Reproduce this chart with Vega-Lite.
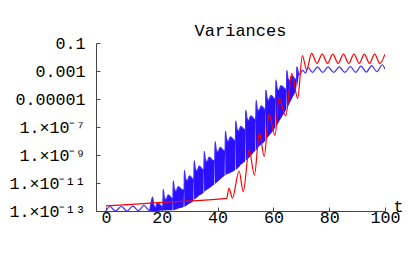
{
  "$schema": "https://vega.github.io/schema/vega-lite/v6.json",
  "width": 289,
  "height": 168,
  "autosize": "none",
  "padding": {"left": 96, "top": 43, "right": 24, "bottom": 42},
  "background": "white",
  "config": {
    "view": {"stroke": null},
    "font": "Liberation Mono",
    "axis": {"labelColor": "#000", "domainColor": "#444", "tickColor": "#444", "grid": false, "titleFontWeight": "normal", "titleColor": "#000"}
  },
  "title": {"text": "Variances", "font": "Liberation Mono", "fontSize": 17, "fontWeight": "normal", "offset": -5, "anchor": "middle", "color": "#000"},
  "datasets": {
    "blue": [
      {"t": 0, "lo": 1.0e-13, "hi": 1.0e-13},
      {"t": 1.4, "lo": 2.1e-13, "hi": 2.1e-13},
      {"t": 3.4, "lo": 1.0e-13, "hi": 1.0e-13},
      {"t": 5.5, "lo": 2.1e-13, "hi": 2.1e-13},
      {"t": 7.5, "lo": 1.0e-13, "hi": 1.0e-13},
      {"t": 9.6, "lo": 2.2e-13, "hi": 2.2e-13},
      {"t": 11.6, "lo": 1.05e-13, "hi": 1.05e-13},
      {"t": 13.6, "lo": 2.5e-13, "hi": 2.5e-13},
      {"t": 15.5, "lo": 1.1e-13, "hi": 1.1e-13},
      {"t": 16.7, "lo": 1.0e-13, "hi": 1.0e-12},
      {"t": 17.1, "lo": 1.0e-13, "hi": 2.8e-13},
      {"t": 17.7, "lo": 1.0e-13, "hi": 1.8e-13},
      {"t": 18.5, "lo": 1.0e-13, "hi": 4.0e-13},
      {"t": 20.0, "lo": 1.07e-13, "hi": 2.2e-13},
      {"t": 20.3, "lo": 1.07e-13, "hi": 2.2e-13},
      {"t": 20.4, "lo": 2.2e-13, "hi": 2.2e-13},
      {"t": 20.5, "lo": 1.07e-13, "hi": 3.5e-12},
      {"t": 20.9, "lo": 1.07e-13, "hi": 1.0e-12},
      {"t": 21.5, "lo": 1.1e-13, "hi": 6.3e-13},
      {"t": 22.3, "lo": 1.12e-13, "hi": 1.4e-12},
      {"t": 23.8, "lo": 1.15e-13, "hi": 7.9e-13},
      {"t": 23.9, "lo": 1.15e-13, "hi": 7.9e-13},
      {"t": 24.0, "lo": 7.9e-13, "hi": 7.9e-13},
      {"t": 24.1, "lo": 1.15e-13, "hi": 1.4e-11},
      {"t": 24.5, "lo": 1.2e-13, "hi": 4.0e-12},
      {"t": 25.1, "lo": 1.3e-13, "hi": 2.5e-12},
      {"t": 25.9, "lo": 1.5e-13, "hi": 5.6e-12},
      {"t": 27.4, "lo": 1.8e-13, "hi": 3.2e-12},
      {"t": 27.9, "lo": 2.0e-13, "hi": 3.2e-12},
      {"t": 28.0, "lo": 3.2e-12, "hi": 3.2e-12},
      {"t": 28.1, "lo": 2.0e-13, "hi": 7.9e-11},
      {"t": 28.5, "lo": 2.2e-13, "hi": 2.2e-11},
      {"t": 29.1, "lo": 2.7e-13, "hi": 1.4e-11},
      {"t": 29.9, "lo": 3.4e-13, "hi": 3.2e-11},
      {"t": 31.4, "lo": 5.6e-13, "hi": 1.8e-11},
      {"t": 31.5, "lo": 1.8e-11, "hi": 1.8e-11},
      {"t": 31.6, "lo": 6.3e-13, "hi": 4.0e-10},
      {"t": 32.0, "lo": 7.4e-13, "hi": 1.1e-10},
      {"t": 32.6, "lo": 9.3e-13, "hi": 7.1e-11},
      {"t": 33.4, "lo": 1.26e-12, "hi": 1.6e-10},
      {"t": 34.9, "lo": 2.0e-12, "hi": 8.9e-11},
      {"t": 35.0, "lo": 2.2e-12, "hi": 8.9e-11},
      {"t": 35.1, "lo": 8.9e-11, "hi": 8.9e-11},
      {"t": 35.2, "lo": 2.4e-12, "hi": 1.8e-9},
      {"t": 35.6, "lo": 2.7e-12, "hi": 5.0e-10},
      {"t": 36.2, "lo": 3.3e-12, "hi": 3.2e-10},
      {"t": 37.0, "lo": 4.3e-12, "hi": 7.1e-10},
      {"t": 38.5, "lo": 7.1e-12, "hi": 4.0e-10},
      {"t": 38.9, "lo": 8.5e-12, "hi": 4.0e-10},
      {"t": 39.0, "lo": 4.0e-10, "hi": 4.0e-10},
      {"t": 39.1, "lo": 8.9e-12, "hi": 8.9e-9},
      {"t": 39.5, "lo": 1.0e-11, "hi": 2.5e-9},
      {"t": 40.1, "lo": 1.26e-11, "hi": 1.6e-9},
      {"t": 40.9, "lo": 1.8e-11, "hi": 3.5e-9},
      {"t": 42.4, "lo": 3.2e-11, "hi": 2.0e-9},
      {"t": 42.6, "lo": 3.4e-11, "hi": 2.0e-9},
      {"t": 42.7, "lo": 2.0e-9, "hi": 2.0e-9},
      {"t": 42.8, "lo": 3.5e-11, "hi": 5.0e-8},
      {"t": 43.2, "lo": 4.0e-11, "hi": 1.4e-8},
      {"t": 43.8, "lo": 4.5e-11, "hi": 8.9e-9},
      {"t": 44.6, "lo": 5.4e-11, "hi": 2.0e-8},
      {"t": 46.1, "lo": 7.9e-11, "hi": 1.1e-8},
      {"t": 46.3, "lo": 8.5e-11, "hi": 1.1e-8},
      {"t": 46.4, "lo": 1.1e-8, "hi": 1.1e-8},
      {"t": 46.5, "lo": 8.9e-11, "hi": 2.8e-7},
      {"t": 46.9, "lo": 1.0e-10, "hi": 7.9e-8},
      {"t": 47.5, "lo": 1.26e-10, "hi": 5.0e-8},
      {"t": 48.3, "lo": 2.0e-10, "hi": 1.1e-7},
      {"t": 49.8, "lo": 3.5e-10, "hi": 6.3e-8},
      {"t": 49.9, "lo": 3.7e-10, "hi": 6.3e-8},
      {"t": 50.0, "lo": 6.3e-8, "hi": 6.3e-8},
      {"t": 50.1, "lo": 4.0e-10, "hi": 1.6e-6},
      {"t": 50.5, "lo": 4.7e-10, "hi": 4.5e-7},
      {"t": 51.1, "lo": 6.0e-10, "hi": 2.8e-7},
      {"t": 51.9, "lo": 8.5e-10, "hi": 6.3e-7},
      {"t": 53.4, "lo": 1.9e-9, "hi": 3.5e-7},
      {"t": 53.6, "lo": 2.0e-9, "hi": 3.5e-7},
      {"t": 53.7, "lo": 3.5e-7, "hi": 3.5e-7},
      {"t": 53.8, "lo": 2.2e-9, "hi": 7.9e-6},
      {"t": 54.2, "lo": 2.8e-9, "hi": 2.2e-6},
      {"t": 54.8, "lo": 4.0e-9, "hi": 1.4e-6},
      {"t": 55.6, "lo": 5.6e-9, "hi": 3.2e-6},
      {"t": 57.1, "lo": 1.1e-8, "hi": 1.8e-6},
      {"t": 57.2, "lo": 1.8e-6, "hi": 1.8e-6},
      {"t": 57.3, "lo": 1.26e-8, "hi": 4.5e-5},
      {"t": 57.7, "lo": 1.6e-8, "hi": 1.26e-5},
      {"t": 58.3, "lo": 2.2e-8, "hi": 7.9e-6},
      {"t": 59.1, "lo": 3.5e-8, "hi": 1.8e-5},
      {"t": 60.6, "lo": 8.9e-8, "hi": 1.0e-5},
      {"t": 60.7, "lo": 9.5e-8, "hi": 1.0e-5},
      {"t": 60.8, "lo": 1.0e-5, "hi": 1.0e-5},
      {"t": 60.9, "lo": 1.1e-7, "hi": 2.2e-4},
      {"t": 61.3, "lo": 1.4e-7, "hi": 6.3e-5},
      {"t": 61.9, "lo": 2.2e-7, "hi": 4.0e-5},
      {"t": 62.7, "lo": 4.0e-7, "hi": 8.9e-5},
      {"t": 64.5, "lo": 1.6e-6, "hi": 5.0e-5},
      {"t": 64.6, "lo": 1.7e-6, "hi": 5.0e-5},
      {"t": 64.7, "lo": 5.0e-5, "hi": 5.0e-5},
      {"t": 64.8, "lo": 2.0e-6, "hi": 1.1e-3},
      {"t": 65.2, "lo": 2.8e-6, "hi": 3.2e-4},
      {"t": 65.8, "lo": 5.0e-6, "hi": 2.0e-4},
      {"t": 66.6, "lo": 1.0e-5, "hi": 4.5e-4},
      {"t": 68.1, "lo": 5.0e-5, "hi": 2.5e-4},
      {"t": 68.2, "lo": 6.0e-5, "hi": 2.5e-4},
      {"t": 68.3, "lo": 2.5e-4, "hi": 2.5e-4},
      {"t": 68.4, "lo": 7.9e-5, "hi": 2.0e-3},
      {"t": 69.2, "lo": 5.6e-4, "hi": 5.6e-4},
      {"t": 70.6, "lo": 1.1e-3, "hi": 1.1e-3},
      {"t": 71.5, "lo": 7.1e-4, "hi": 7.1e-4},
      {"t": 72.4, "lo": 1.8e-3, "hi": 1.8e-3},
      {"t": 74.0, "lo": 7.9e-4, "hi": 7.9e-4},
      {"t": 75.8, "lo": 2.0e-3, "hi": 2.0e-3},
      {"t": 77.7, "lo": 7.9e-4, "hi": 7.9e-4},
      {"t": 79.6, "lo": 2.0e-3, "hi": 2.0e-3},
      {"t": 81.6, "lo": 7.9e-4, "hi": 7.9e-4},
      {"t": 83.6, "lo": 2.0e-3, "hi": 2.0e-3},
      {"t": 85.6, "lo": 7.9e-4, "hi": 7.9e-4},
      {"t": 87.6, "lo": 2.1e-3, "hi": 2.1e-3},
      {"t": 89.5, "lo": 7.9e-4, "hi": 7.9e-4},
      {"t": 91.4, "lo": 2.2e-3, "hi": 2.2e-3},
      {"t": 93.3, "lo": 8.3e-4, "hi": 8.3e-4},
      {"t": 95.2, "lo": 2.4e-3, "hi": 2.4e-3},
      {"t": 97.1, "lo": 8.9e-4, "hi": 8.9e-4},
      {"t": 99.0, "lo": 2.8e-3, "hi": 2.8e-3},
      {"t": 100, "lo": 1.4e-3, "hi": 1.4e-3}
    ],
    "red": [
      {"t": 0, "v": 2.3e-13},
      {"t": 20, "v": 4.1e-13},
      {"t": 43.2, "v": 7.9e-13},
      {"t": 44.1, "v": 4.2e-12},
      {"t": 45.3, "v": 8.3e-13},
      {"t": 47.7, "v": 7.2e-11},
      {"t": 49.2, "v": 2.4e-12},
      {"t": 51.3, "v": 2.3e-9},
      {"t": 53.2, "v": 3.7e-11},
      {"t": 55.0, "v": 4.0e-8},
      {"t": 56.7, "v": 7.9e-10},
      {"t": 58.4, "v": 7.9e-7},
      {"t": 60.6, "v": 2.5e-8},
      {"t": 62.0, "v": 1.1e-5},
      {"t": 64.4, "v": 6.3e-7},
      {"t": 66.6, "v": 6.8e-4},
      {"t": 68.7, "v": 1.1e-5},
      {"t": 70.4, "v": 1.26e-2},
      {"t": 71.9, "v": 1.2e-3},
      {"t": 73.7, "v": 1.8e-2},
      {"t": 75.6, "v": 3.5e-3},
      {"t": 77.5, "v": 1.6e-2},
      {"t": 79.4, "v": 3.5e-3},
      {"t": 81.3, "v": 1.6e-2},
      {"t": 83.2, "v": 3.5e-3},
      {"t": 85.1, "v": 1.6e-2},
      {"t": 87.0, "v": 3.5e-3},
      {"t": 88.9, "v": 1.6e-2},
      {"t": 90.75, "v": 3.5e-3},
      {"t": 92.6, "v": 1.6e-2},
      {"t": 94.45, "v": 3.5e-3},
      {"t": 96.3, "v": 1.6e-2},
      {"t": 98.15, "v": 3.5e-3},
      {"t": 100, "v": 1.6e-2}
    ]
  },
  "layer": [
    {
      "data": {"name": "blue"},
      "mark": {"type": "area", "color": "#2a10ff", "interpolate": "monotone", "clip": true, "opacity": 1},
      "encoding": {
        "x": {"field": "t", "type": "quantitative", "scale": {"domain": [-3.58, 100], "nice": false, "zero": false},
          "axis": {"values": [0, 20, 40, 60, 80, 100], "title": "t", "titleFont": "Liberation Mono", "titleX": 302, "titleY": -5, "titleAlign": "center", "titleBaseline": "middle", "titleFontSize": 16.7, "labelFont": "Liberation Mono", "labelFontSize": 16.7, "labelPadding": 2, "tickSize": -4, "labelFlush": false, "labelOverlap": false}},
        "y": {"field": "lo", "type": "quantitative", "scale": {"type": "log", "domain": [1e-13, 0.1], "nice": false},
          "axis": {"values": [1e-13, 1e-11, 1e-9, 1e-7, 1e-5, 0.001, 0.1], "title": null, "tickSize": -4, "labelPadding": 15, "labelFont": "Liberation Mono", "labelFontSize": 16.7, "labelFlush": false, "labelOverlap": false,
            "labelExpr": "datum.value > 0.05 ? '0.1' : datum.value > 5e-4 ? '0.001' : datum.value > 5e-6 ? '0.00001' : datum.value > 5e-8 ? '1.×10⁻⁷' : datum.value > 5e-10 ? '1.×10⁻⁹' : datum.value > 5e-12 ? '1.×10⁻¹¹' : '1.×10⁻¹³'"}},
        "y2": {"field": "hi"}
      }
    },
    {
      "data": {"name": "blue"},
      "mark": {"type": "line", "color": "#4030ff", "strokeWidth": 1.2, "interpolate": "monotone", "clip": true},
      "encoding": {
        "x": {"field": "t", "type": "quantitative"},
        "y": {"field": "hi", "type": "quantitative"}
      }
    },
    {
      "data": {"name": "red"},
      "mark": {"type": "line", "color": "#ff0000", "strokeWidth": 1.2, "interpolate": "monotone", "clip": true},
      "encoding": {
        "x": {"field": "t", "type": "quantitative"},
        "y": {"field": "v", "type": "quantitative"}
      }
    }
  ]
}
